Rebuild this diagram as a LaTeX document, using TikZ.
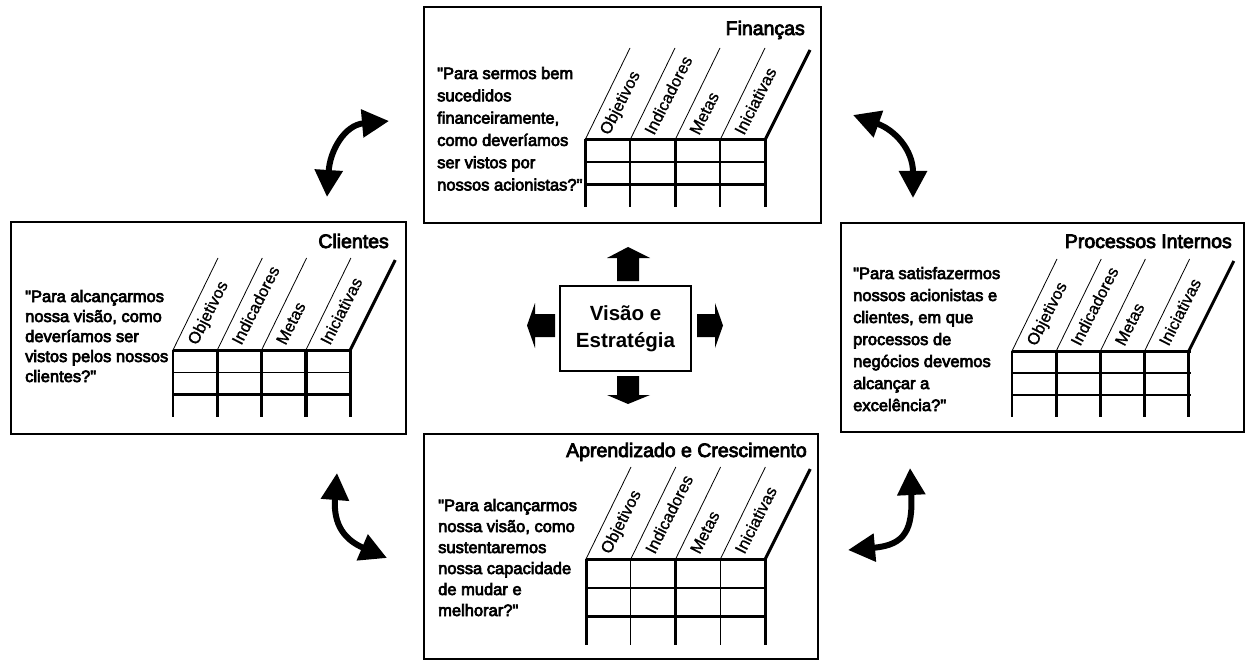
\documentclass[tikz,border=0pt]{standalone}
\usepackage{fontspec}
\setmainfont{Liberation Sans}
\newfontfamily\qfont[FakeBold=4]{Liberation Sans}
\newfontfamily\lfont[FakeBold=1]{Liberation Sans}
\usetikzlibrary{arrows.meta}

\tikzset{
  box/.style={draw, line width=2.2pt, rectangle, inner sep=0pt, anchor=north west},
  quest/.style={font=\qfont\fontsize{16.5}{#1}\selectfont, align=left, anchor=base west, inner sep=0pt},
  ttl/.style={font=\qfont\fontsize{19.5}{20}\selectfont, anchor=base east, inner sep=0pt},
  lab/.style={font=\lfont\fontsize{16.5}{17}\selectfont, rotate=63, anchor=base west, inner sep=0pt},
  visbox/.style={draw, line width=1.5pt, rectangle, inner sep=0pt, align=center,
    font=\bfseries\fontsize{20.5}{27.5}\selectfont},
  carr/.style={line width=6pt, {Triangle[length=27pt,width=27pt]}-{Triangle[length=27pt,width=27pt]}},
  blk/.style={fill=black}
}

% #1 x, #2 y, #3 column width, #4 row height, #5 vertical widths, #6 horizontal widths
\newcommand\bsctab[6]{%
\begin{scope}[shift={(#1,#2)}]
  \foreach \w [count=\i from 0] in {#5} \draw[line width=\w] (\i*#3,-0.5) -- (\i*#3,3*#4);
  \foreach \w [count=\i from 0] in {#6} \draw[line width=\w] (-0.5,\i*#4) -- (4*#3+2,\i*#4);
  \foreach \i in {0,1,2,3} \draw[line width=0.8pt] (\i*#3,0) -- ++(45,-92);
  \draw[line width=3pt] (4*#3,0) -- ++(45,-90);
  \foreach \t [count=\i from 0] in {Objetivos,Indicadores,Metas,Iniciativas}
    \node[lab] at (\i*#3+24,-4) {\t};
\end{scope}}

\begin{document}
\begin{tikzpicture}[x=1pt,y={(0pt,-1pt)}]
\useasboundingbox (0,0) rectangle (1249,660);

% boxes
\node[box, minimum width=397pt, minimum height=216pt] (fin) at (423,6) {};
\node[box, minimum width=395pt, minimum height=212pt] (cli) at (10,221) {};
\node[box, minimum width=403pt, minimum height=209pt] (pro) at (840,222) {};
\node[box, minimum width=394pt, minimum height=225pt] (apr) at (423,433) {};

% titles
\node[ttl] (fint) at (805,35) {Finanças};
\node[ttl] (clit) at (389,248) {Clientes};
\node[ttl] (prot) at (1232,248) {Processos Internos};
\node[ttl] (aprt) at (807,457) {Aprendizado e Crescimento};

% questions (anchored at the baseline of the last line)
\node[quest=22.3] (finq) at (437,190.5) {"Para sermos bem\\sucedidos\\financeiramente,\\como deveríamos\\ser vistos por\\nossos acionistas?"};
\node[quest=20] (cliq) at (25,382) {"Para alcançarmos\\nossa visão, como\\deveríamos ser\\vistos pelos nossos\\clientes?"};
\node[quest=22] (proq) at (853,411) {"Para satisfazermos\\nossos acionistas e\\clientes, em que\\processos de\\negócios devemos\\alcançar a\\excelência?"};
\node[quest=21] (aprq) at (438,616) {"Para alcançarmos\\nossa visão, como\\sustentaremos\\nossa capacidade\\de mudar e\\melhorar?"};

% tables
\bsctab{585}{140}{45}{22.3}{3pt,1.3pt,3pt,1.3pt,3pt}{3pt,2.4pt,2.4pt}
\bsctab{173}{350}{44.3}{22.3}{2.7pt,2.7pt,2.7pt,4pt,2.7pt}{3pt,1.5pt,2.5pt}
\bsctab{1012}{351}{44.2}{22}{1.3pt,2.7pt,2.7pt,2.7pt,2.7pt}{3pt,1.3pt,2.3pt}
\bsctab{586}{559}{44.8}{28.7}{3pt,1.3pt,3pt,1.3pt,3pt}{3pt,2.4pt,2.4pt}

% centre
\node[visbox, minimum width=131pt, minimum height=85pt] (vis) at (625.5,328.5) {Visão e\\Estratégia};

% block arrows
\fill[blk] (617,281) -- (617,258) -- (607,258) -- (628,247) -- (650,258) -- (639,258) -- (639,281) -- cycle;
\fill[blk] (617,376) -- (617,395) -- (607,395) -- (628,404) -- (650,395) -- (639,395) -- (639,376) -- cycle;
\fill[blk] (555,314) -- (535,314) -- (535,303) -- (527,325.5) -- (535,348) -- (535,337) -- (555,337) -- cycle;
\fill[blk] (697,314) -- (715,314) -- (715,303) -- (723,325.5) -- (715,348) -- (715,337) -- (697,337) -- cycle;

% curved double arrows
\coordinate (a1s) at (327,197); \coordinate (a1e) at (389,121);
\draw[carr] (a1s) .. controls (330,150) and (345,125) .. (a1e);
\coordinate (a2s) at (853,115); \coordinate (a2e) at (913,198);
\draw[carr] (a2s) .. controls (895,130) and (913,150) .. (a2e);
\coordinate (a3s) at (910,468); \coordinate (a3e) at (848,550);
\draw[carr] (a3s) .. controls (913,530) and (905,545) .. (a3e);
\coordinate (a4s) at (337,473); \coordinate (a4e) at (387,558);
\draw[carr] (a4s) .. controls (333,525) and (345,540) .. (a4e);
\end{tikzpicture}
\end{document}
